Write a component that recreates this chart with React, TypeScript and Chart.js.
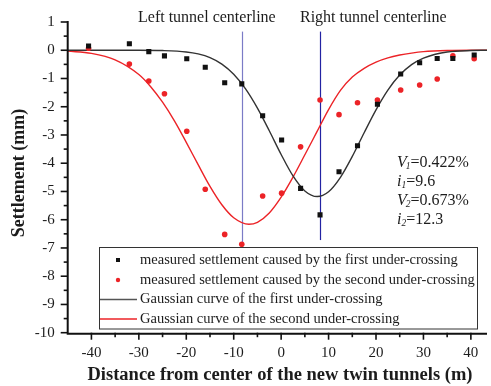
import { useEffect, useRef } from 'react';
import { Chart, registerables } from 'chart.js';

Chart.register(...registerables);

// Survey positions across the new twin tunnels (m)
const measuredX = [-40.6, -32, -27.9, -24.6, -19.9, -16, -11.9, -8.3, -3.9, 0.1, 4.1, 8.2, 12.2, 16.1, 20.3, 25.2, 29.2, 32.9, 36.2, 40.7];
// Settlement after the first under-crossing (mm)
const firstMeasured = [0.15, 0.23, -0.05, -0.2, -0.3, -0.6, -1.15, -1.19, -2.32, -3.18, -4.89, -5.83, -4.3, -3.38, -1.91, -0.84, -0.44, -0.29, -0.29, -0.17];
// Settlement after the second under-crossing (mm)
const secondMeasured = [0.07, -0.49, -1.09, -1.54, -2.87, -4.92, -6.52, -6.87, -5.16, -5.06, -3.42, -1.76, -2.28, -1.86, -1.76, -1.41, -1.23, -1.02, -0.2, -0.3];

// Gaussian settlement troughs
const firstCurveX = [-45, -30, -25, -20, -17.5, -15, -12.5, -10, -7.5, -5, -2.5, 0, 2.5, 5, 7.6, 10, 12.5, 15, 17.5, 20, 22.5, 25, 27.5, 30, 32.5, 35, 40, 43.4];
const firstCurveY = [0, 0, -0.01, -0.06, -0.13, -0.26, -0.49, -0.85, -1.37, -2.05, -2.85, -3.69, -4.45, -4.98, -5.18, -5.01, -4.5, -3.76, -2.92, -2.11, -1.41, -0.88, -0.51, -0.28, -0.14, -0.06, -0.01, 0];
const secondCurveX = [-45, -40, -35, -30, -27.5, -25, -22.5, -20, -17.5, -15, -12.5, -10, -6.8, -5, -2.5, 0, 2.5, 5, 7.5, 10, 12.5, 15, 17.5, 20, 22.5, 25, 27.5, 30, 35, 40, 43.4];
const secondCurveY = [-0.03, -0.11, -0.34, -0.86, -1.29, -1.84, -2.5, -3.26, -4.05, -4.82, -5.47, -5.93, -6.16, -6.09, -5.76, -5.2, -4.49, -3.7, -2.9, -2.1, -1.42, -0.95, -0.64, -0.42, -0.27, -0.17, -0.1, -0.05, -0.01, 0, 0];

const xTickValues = [-40, -30, -20, -10, 0, 10, 20, 30, 40];
const yTickValues = [1, 0, -1, -2, -3, -4, -5, -6, -7, -8, -9, -10];

const leftCenterline = -8.3;
const rightCenterline = 8.2;

const legendLabels = [
  'measured settlement caused by the first under-crossing',
  'measured settlement caused by the second under-crossing',
  'Gaussian curve of the first under-crossing',
  'Gaussian curve of the second under-crossing',
];

const paramLines = [
  { sym: 'V', sub: '1', text: '=0.422%' },
  { sym: 'i', sub: '1', text: '=9.6' },
  { sym: 'V', sub: '2', text: '=0.673%' },
  { sym: 'i', sub: '2', text: '=12.3' },
];

const SERIF = '"Liberation Serif", "DejaVu Serif", serif';
const TEXT = '#1c1c1c';
const BLACK_PT = '#111';
const RED = '#ec2327';

const pairs = (xs: number[], ys: number[]) => xs.map((x, i) => ({ x, y: ys[i] }));

const framePlugin = {
  id: 'frame',
  beforeDatasetsDraw(chart: any) {
    const { ctx, scales } = chart;
    const xs = scales.x;
    const ys = scales.y;
    ctx.save();
    // tunnel centerlines
    const lines = [
      { v: leftCenterline, bottom: -6.95, color: '#7b7bc6' },
      { v: rightCenterline, bottom: -6.72, color: '#2323a3' },
    ];
    for (const l of lines) {
      const px = Math.round(xs.getPixelForValue(l.v)) + 0.5;
      ctx.strokeStyle = l.color;
      ctx.lineWidth = 1.2;
      ctx.beginPath();
      ctx.moveTo(px, ys.getPixelForValue(0.66));
      ctx.lineTo(px, ys.getPixelForValue(l.bottom));
      ctx.stroke();
    }
    ctx.fillStyle = TEXT;
    ctx.font = `16px ${SERIF}`;
    ctx.textBaseline = 'middle';
    ctx.textAlign = 'left';
    ctx.fillText('Left tunnel centerline', 138, 18);
    ctx.fillText('Right tunnel centerline', 300, 18);
    ctx.restore();
  },
  afterDatasetsDraw(chart: any) {
    const { ctx, scales, chartArea } = chart;
    const xs = scales.x;
    const ys = scales.y;
    const left = chartArea.left;
    const bottom = chartArea.bottom;
    ctx.save();
    ctx.strokeStyle = '#111';
    ctx.lineWidth = 2;
    // axis lines
    ctx.beginPath();
    ctx.moveTo(left, chartArea.top - 1);
    ctx.lineTo(left, bottom + 1);
    ctx.lineTo(chartArea.right, bottom + 1);
    ctx.stroke();

    // y ticks: major on integers, minor on halves
    ctx.lineWidth = 1.6;
    for (let v = 1; v >= -10; v -= 0.5) {
      const py = ys.getPixelForValue(v);
      const major = Number.isInteger(v);
      ctx.beginPath();
      ctx.moveTo(left - (major ? 7 : 4), py);
      ctx.lineTo(left, py);
      ctx.stroke();
    }
    // x ticks: major every 10, minor every 5
    for (let v = -40; v <= 40; v += 5) {
      const px = xs.getPixelForValue(v);
      const major = v % 10 === 0;
      ctx.beginPath();
      ctx.moveTo(px, bottom);
      ctx.lineTo(px, bottom + (major ? 7 : 4.5));
      ctx.stroke();
    }

    ctx.fillStyle = TEXT;
    ctx.font = `15px ${SERIF}`;
    ctx.textAlign = 'right';
    ctx.textBaseline = 'middle';
    for (const v of yTickValues) {
      ctx.fillText(String(v), left - 13, ys.getPixelForValue(v));
    }
    ctx.textAlign = 'center';
    for (const v of xTickValues) {
      ctx.fillText(String(v), xs.getPixelForValue(v), bottom + 20);
    }

    // axis titles
    ctx.font = `bold 18.5px ${SERIF}`;
    ctx.fillText('Distance from center of the new twin tunnels (m)', 280, 375);
    ctx.save();
    ctx.translate(19, 173);
    ctx.rotate(-Math.PI / 2);
    ctx.font = `bold 18px ${SERIF}`;
    ctx.fillText('Settlement (mm)', 0, 0);
    ctx.restore();

    // fitted parameters
    let py = 163;
    for (const p of paramLines) {
      let px = 397;
      ctx.textAlign = 'left';
      ctx.font = `italic 16px ${SERIF}`;
      ctx.fillText(p.sym, px, py);
      px += ctx.measureText(p.sym).width - (p.sym === 'V' ? 1 : 0);
      ctx.font = `italic 9.5px ${SERIF}`;
      ctx.fillText(p.sub, px, py + 3);
      px += ctx.measureText(p.sub).width;
      ctx.font = `16px ${SERIF}`;
      ctx.fillText(p.text, px, py);
      py += 19;
    }
    ctx.restore();
  },
  afterDraw(chart: any) {
    const { ctx } = chart;
    ctx.save();
    const bx = 99.5, by = 247.5, bw = 378, bh = 81.5;
    ctx.fillStyle = '#fff';
    ctx.fillRect(bx, by, bw, bh);
    ctx.strokeStyle = '#333';
    ctx.lineWidth = 1;
    ctx.strokeRect(bx, by, bw, bh);
    const rows = [260, 280, 299.5, 319];
    // markers
    ctx.fillStyle = BLACK_PT;
    ctx.fillRect(116, rows[0] - 2, 4, 4);
    ctx.fillStyle = RED;
    ctx.beginPath();
    ctx.arc(118, rows[1], 2.2, 0, Math.PI * 2);
    ctx.fill();
    ctx.lineWidth = 1.4;
    ctx.strokeStyle = '#555';
    ctx.beginPath();
    ctx.moveTo(100, rows[2]);
    ctx.lineTo(137, rows[2]);
    ctx.stroke();
    ctx.strokeStyle = RED;
    ctx.beginPath();
    ctx.moveTo(100, rows[3]);
    ctx.lineTo(137, rows[3]);
    ctx.stroke();
    ctx.fillStyle = TEXT;
    ctx.font = `14.5px ${SERIF}`;
    ctx.textAlign = 'left';
    ctx.textBaseline = 'middle';
    legendLabels.forEach((t, i) => ctx.fillText(t, 140, rows[i]));
    ctx.restore();
  },
};

export default function App() {
  const canvasRef = useRef<HTMLCanvasElement | null>(null);

  useEffect(() => {
    const canvas = canvasRef.current;
    if (!canvas) return;
    const chart = new Chart(canvas, {
      type: 'scatter',
      data: {
        datasets: [
          {
            label: legendLabels[0],
            data: pairs(measuredX, firstMeasured),
            pointStyle: 'rect',
            pointRadius: 3.6,
            backgroundColor: BLACK_PT,
            borderWidth: 0,
            showLine: false,
          },
          {
            label: legendLabels[1],
            data: pairs(measuredX, secondMeasured),
            pointStyle: 'circle',
            pointRadius: 2.8,
            backgroundColor: RED,
            borderWidth: 0,
            showLine: false,
          },
          {
            label: legendLabels[2],
            data: pairs(firstCurveX, firstCurveY),
            showLine: true,
            borderColor: '#333',
            borderWidth: 1.4,
            pointRadius: 0,
            cubicInterpolationMode: 'monotone',
          },
          {
            label: legendLabels[3],
            data: pairs(secondCurveX, secondCurveY),
            showLine: true,
            borderColor: RED,
            borderWidth: 1.4,
            pointRadius: 0,
            cubicInterpolationMode: 'monotone',
          },
        ],
      },
      options: {
        animation: false,
        responsive: false,
        devicePixelRatio: 1,
        layout: { padding: { left: 67.7, top: 22, right: 0, bottom: 53.3 } },
        scales: {
          x: { type: 'linear', display: false, min: -45, max: 43.4 },
          y: { type: 'linear', display: false, min: -10, max: 1 },
        },
        plugins: {
          legend: { display: false },
          tooltip: { enabled: false },
        },
        events: [],
      },
      plugins: [framePlugin],
    } as any);
    return () => chart.destroy();
  }, []);

  return (
    <div style={{ position: 'fixed', left: 0, top: 0, width: 491, height: 386, background: '#fff' }}>
      <canvas ref={canvasRef} width={491} height={386} style={{ display: 'block' }} />
    </div>
  );
}
